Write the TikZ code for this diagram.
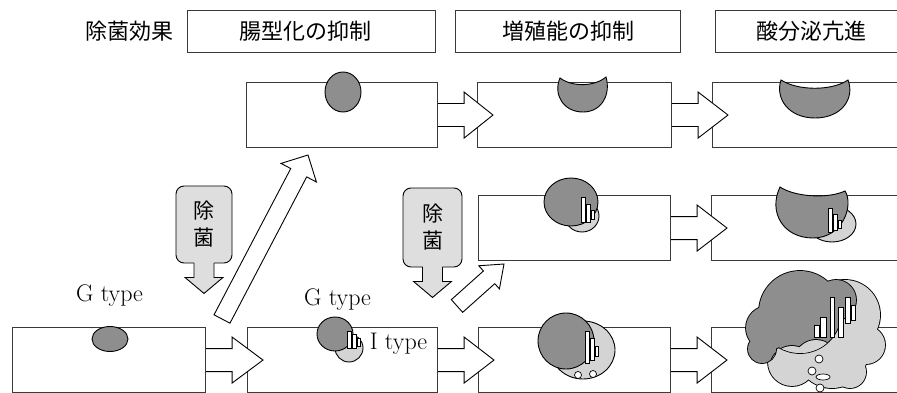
\documentclass[tikz,border=0pt]{standalone}
\usepackage{fontspec}
\newfontfamily\jp{Noto Sans CJK JP}
\usetikzlibrary{calc}
\definecolor{darkcell}{HTML}{8E8E8E}
\definecolor{lightcell}{HTML}{D4D4D4}
\definecolor{tagfill}{HTML}{DEDEDE}
\definecolor{rule}{HTML}{3A3A3A}

% horizontal block arrow from the east side of one box into the next box
\newcommand{\hblock}[2]{%
  \draw[blockarrow] ($(#1.east)+(0,-11.5)$) -- ($(#1.east)+(26,-11.5)$)
    -- ($(#1.east)+(26,-23)$) -- ($(#2.west)+(16,0)$) -- ($(#1.east)+(26,23)$)
    -- ($(#1.east)+(26,11.5)$) -- ($(#1.east)+(0,11.5)$);}

% slanted block arrow: base, tip, shaft half width, head half width, head length
\newcommand{\slantblock}[5]{%
  \coordinate (hs) at ($(#2)!#5pt!(#1)$);
  \draw[blockarrow] ($(#1)!#3pt!90:(#2)$) -- ($(hs)!#3pt!90:(#2)$)
    -- ($(hs)!#4pt!90:(#2)$) -- (#2) -- ($(hs)!#4pt!-90:(#2)$)
    -- ($(hs)!#3pt!-90:(#2)$) -- ($(#1)!#3pt!-90:(#2)$) -- cycle;}

% downward pointer hanging under a rounded tag
\newcommand{\dropsign}[1]{%
  \fill[tagfill] ($(#1.south)+(-10,-2)$) -- ($(#1.south)+(10,-2)$)
    -- ($(#1.south)+(10,14)$) -- ($(#1.south)+(19,14)$) -- ($(#1.south)+(0,30)$)
    -- ($(#1.south)+(-19,14)$) -- ($(#1.south)+(-10,14)$) -- cycle;
  \draw[tagline] ($(#1.south)+(-10,-0.5)$) -- ($(#1.south)+(-10,14)$)
    -- ($(#1.south)+(-19,14)$) -- ($(#1.south)+(0,30)$) -- ($(#1.south)+(19,14)$)
    -- ($(#1.south)+(10,14)$) -- ($(#1.south)+(10,-0.5)$);}

\begin{document}
\begin{tikzpicture}[x=1pt,y=-1pt,
  frame/.style={draw=rule, line width=1.1pt, fill=white, inner sep=0pt,
    anchor=north west, minimum height=65pt},
  headbox/.style={draw=rule, line width=1.1pt, fill=white, inner sep=0pt,
    anchor=north west, minimum height=42pt, font=\jp\fontsize{22pt}{26pt}\selectfont},
  blockarrow/.style={draw=black, fill=white, line width=0.9pt, line join=miter},
  tag/.style={draw=black, line width=0.9pt, fill=tagfill, rounded corners=8pt,
    inner sep=0pt, align=center, font=\jp\fontsize{21pt}{27pt}\selectfont},
  tagline/.style={draw=black, line width=0.9pt, line join=miter},
  darkpart/.style={draw=black, line width=0.9pt, fill=darkcell},
  lightpart/.style={draw=black, line width=0.9pt, fill=lightcell},
  gland/.style={draw=black, line width=0.6pt, fill=white},
  hole/.style={draw=black, line width=0.7pt, fill=white},
  typelabel/.style={font=\fontsize{24pt}{28pt}\selectfont, inner sep=0pt}
]
\useasboundingbox (0,0) rectangle (897,393);
\clip (0,0) rectangle (897,393);
\fill[white] (0,0) rectangle (897,393);

% column headings
\node[font=\jp\fontsize{22pt}{26pt}\selectfont, inner sep=0pt] (effect) at (129.5,31) {除菌効果};
\node[headbox, minimum width=248pt] (h1) at (187,10) {\hspace*{-12pt}腸型化の抑制};
\node[headbox, minimum width=225pt] (h2) at (455,10) {増殖能の抑制};
\node[headbox, minimum width=191pt] (h3) at (715,10) {酸分泌亢進};

% mucosa boxes, three rows
\node[frame, minimum width=191pt] (r1a) at (246,82) {};
\node[frame, minimum width=194pt] (r1b) at (477,82) {};
\node[frame, minimum width=200pt] (r1c) at (712,82) {};
\node[frame, minimum width=192pt] (r2b) at (478,195) {};
\node[frame, minimum width=200pt] (r2c) at (711,195) {};
\node[frame, minimum width=193pt] (r3a) at (12,327) {};
\node[frame, minimum width=190pt] (r3b) at (247,327) {};
\node[frame, minimum width=192pt] (r3c) at (478,327) {};
\node[frame, minimum width=200pt] (r3d) at (711,327) {};

% progression arrows
\hblock{r1a}{r1b}
\hblock{r1b}{r1c}
\hblock{r2b}{r2c}
\hblock{r3a}{r3b}
\hblock{r3b}{r3c}
\hblock{r3c}{r3d}

% eradication branches
\coordinate (bigfrom) at (222,319);
\coordinate (bigto) at (308,155);
\slantblock{bigfrom}{bigto}{9}{20}{20}
\coordinate (smallfrom) at (457,306);
\coordinate (smallto) at (504,264);
\slantblock{smallfrom}{smallto}{8.5}{15.5}{20}

% eradication tags
\node[tag, minimum width=56pt, minimum height=77pt] (t1) at (204,224.5) {除\\菌};
\dropsign{t1}
\node[tag, minimum width=59pt, minimum height=79pt] (t2) at (432.5,227.5) {除\\菌};
\dropsign{t2}

% row 1: G type lesion after eradication
\draw[darkpart] (343,92) ellipse[x radius=18, y radius=20];
\draw[darkpart] (560,78) .. controls (572,87) and (594,87) .. (606,77)
  .. controls (611,94) and (602,112) .. (583,112)
  .. controls (563,112) and (553,94) .. (560,78) -- cycle;
\draw[darkpart] (781,80) .. controls (798,91) and (832,91) .. (848,80)
  .. controls (855,98) and (842,118) .. (815,118)
  .. controls (788,118) and (775,98) .. (781,80) -- cycle;

% row 2: mixed lesion after eradication
\draw[lightpart] (582,216) ellipse[x radius=17, y radius=16];
\draw[darkpart] (571,202) ellipse[x radius=27, y radius=24];
\draw[gland] (581,197) rectangle (585,222);
\draw[gland] (586,204) rectangle (590,222);
\draw[gland] (591,210) rectangle (594,219);
\draw[lightpart] (832,224) ellipse[x radius=24, y radius=18];
\draw[darkpart] (780,187) .. controls (795,197) and (828,199) .. (845,191)
  .. controls (854,205) and (843,238) .. (813,238)
  .. controls (783,238) and (768,212) .. (780,187) -- cycle;
\draw[gland] (828,208) rectangle (832,232);
\draw[gland] (833,214) rectangle (837,230);
\draw[gland] (838,220) rectangle (841,228);

% row 3: natural course
\draw[darkpart] (110,339) ellipse[x radius=18, y radius=12.5];

\draw[lightpart] (349,348) circle[radius=14];
\draw[darkpart] (335,334) ellipse[x radius=18, y radius=17];
\draw[gland] (347,331) rectangle (351,348);
\draw[gland] (352,334) rectangle (356,348);
\draw[gland] (357,338) rectangle (360,346);

\draw[lightpart] (583,350) ellipse[x radius=32, y radius=29];
\draw[darkpart] (566,341) circle[radius=28];
\draw[gland] (585,331) rectangle (589,363);
\draw[gland] (590,338) rectangle (594,360);
\draw[gland] (595,346) rectangle (598,356);
\draw[hole] (578,375) circle[radius=3.5];
\draw[hole] (593,374) circle[radius=3.5];

% large lesion: pale background lobes
\foreach \cx/\cy/\r in {845/315/35, 832/352/36, 792/362/24, 866/345/19, 850/372/16}
  \draw[black, line width=1.8pt] (\cx,\cy) circle[radius=\r];
\foreach \cx/\cy/\r in {845/315/35, 832/352/36, 792/362/24, 866/345/19, 850/372/16}
  \fill[lightcell] (\cx,\cy) circle[radius=\r];
% dark lobes
\foreach \cx/\cy/\r in {800/312/41, 768/328/22, 762/349/14, 836/300/20}
  \draw[black, line width=1.8pt] (\cx,\cy) circle[radius=\r];
\foreach \cx/\cy/\r in {800/312/41, 768/328/22, 762/349/14, 836/300/20}
  \fill[darkcell] (\cx,\cy) circle[radius=\r];
% pale lobes lying over the dark part
\begin{scope}
  \clip (800,312) circle[radius=41] (768,328) circle[radius=22]
        (762,349) circle[radius=14] (836,300) circle[radius=20];
  \foreach \cx/\cy/\r in {792/368/22, 816/362/22, 845/352/18}
    \draw[black, line width=1.8pt] (\cx,\cy) circle[radius=\r];
  \foreach \cx/\cy/\r in {792/368/22, 816/362/22, 845/352/18}
    \fill[lightcell] (\cx,\cy) circle[radius=\r];
\end{scope}
\draw[gland] (814,325) rectangle (819,337);
\draw[gland] (820,317) rectangle (826,337);
\draw[gland] (830,297) rectangle (834,337);
\draw[gland] (838,307) rectangle (843,337);
\draw[gland] (845,297) rectangle (850,323);
\draw[gland] (851,305) rectangle (855,320);
\draw[hole] (819,359) circle[radius=4];
\draw[hole] (812,371) circle[radius=4];
\draw[hole] (823,377) ellipse[x radius=7, y radius=3];
\draw[hole] (820,388) circle[radius=4];

% type labels
\node[typelabel] (g1) at (109.5,296) {G type};
\node[typelabel] (g2) at (337.5,300) {G type};
\node[typelabel] (i2) at (398.5,344) {I type};
\end{tikzpicture}
\end{document}
